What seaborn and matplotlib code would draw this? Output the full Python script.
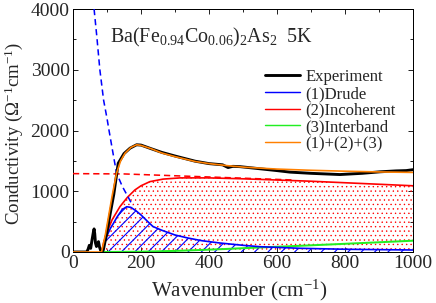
import matplotlib
matplotlib.use("Agg")
import matplotlib.pyplot as plt
from matplotlib.lines import Line2D
import seaborn as sns

# ---- data ----
exp_wn = [0, 40, 44, 48, 52, 56, 60, 62, 64, 66, 69, 72, 75, 78, 81, 84, 89, 100, 110, 120, 133,
          150, 168, 187, 200, 230, 261, 300, 359, 400, 440, 456, 470, 491, 550, 600, 638, 700,
          785, 850, 903, 950, 980, 1000]
exp_sigma = [0, 0, 40, 110, 60, 200, 330, 380, 300, 150, 90, 140, 170, 80, 30, 0, 30, 330, 650,
             950, 1460, 1620, 1710, 1765, 1760, 1700, 1640, 1580, 1495, 1455, 1435, 1390, 1410,
             1405, 1370, 1340, 1315, 1295, 1275, 1295, 1320, 1335, 1340, 1355]

fit_wn = [0, 84, 95, 105, 115, 128, 140, 153, 170, 187, 200, 230, 261, 300, 359, 400, 456, 506,
          600, 700, 800, 900, 1000]
fit_sigma = [0, 0, 280, 600, 920, 1296, 1500, 1626, 1720, 1765, 1755, 1700, 1630, 1570, 1490,
             1455, 1420, 1395, 1365, 1345, 1330, 1318, 1310]

drude_wn = [84, 92, 100, 110, 119, 130, 145, 158, 170, 185, 200, 220, 235, 260, 300, 338, 380,
            432, 500, 550, 668, 800, 1000]
drude_sigma = [0, 150, 270, 390, 472, 580, 700, 745, 735, 680, 610, 500, 420, 360, 280, 230,
               185, 148, 110, 87, 61, 45, 33]

drude0_wn = [62, 70, 79, 90, 100, 106, 116, 128, 145, 162, 176]
drude0_sigma = [4000, 3550, 3000, 2500, 2200, 2000, 1680, 1300, 1080, 906, 760]

incoh_wn = [84, 90, 100, 115, 138, 160, 182, 200, 226, 265, 315, 400, 500, 600, 700, 800, 900,
            1000]
incoh_sigma = [0, 150, 330, 530, 746, 900, 1021, 1090, 1158, 1200, 1220, 1220, 1205, 1185, 1165,
               1140, 1115, 1090]

incoh0_wn = [0, 150, 250, 350, 450, 550, 650]
incoh0_sigma = [1290, 1285, 1265, 1245, 1225, 1205, 1185]

inter_wn = [84, 200, 300, 374, 450, 550, 618, 700, 800, 900, 1000]
inter_sigma = [0, 5, 18, 33, 50, 75, 90, 110, 135, 160, 186]

legend_labels = ["Experiment", "(1)Drude", "(2)Incoherent", "(3)Interband", "(1)+(2)+(3)"]

# ---- style ----
sns.set_style("ticks")
plt.rcParams["font.family"] = ["Liberation Serif", "DejaVu Serif"]
plt.rcParams["mathtext.fontset"] = "custom"
plt.rcParams["mathtext.rm"] = "Liberation Serif"
plt.rcParams["mathtext.it"] = "Liberation Serif:italic"
plt.rcParams["mathtext.bf"] = "Liberation Serif:bold"

BLUE = "#0000ff"
RED = "#ff0000"
GREEN = "#22ee22"
ORANGE = "#ff8000"

DPI = 80
fig = plt.figure(figsize=(436 / DPI, 303 / DPI), dpi=DPI)
ax = fig.add_axes([73 / 436, 1 - 252 / 303, 340 / 436, 243 / 303])

# hatched areas
with plt.rc_context({"hatch.linewidth": 0.55}):
    red_fill = ax.fill_between(incoh_wn, 0, incoh_sigma, facecolor="none", edgecolor=RED,
                               hatch="...", linewidth=0, zorder=1)
    if hasattr(red_fill, "set_hatch_linewidth"):
        red_fill.set_hatch_linewidth(0.55)
with plt.rc_context({"hatch.linewidth": 1.0}):
    blue_fill = ax.fill_between(drude_wn, 0, drude_sigma, facecolor="none", edgecolor=BLUE,
                                hatch="//", linewidth=0, zorder=1.5)
    if hasattr(blue_fill, "set_hatch_linewidth"):
        blue_fill.set_hatch_linewidth(1.0)

kw = dict(ax=ax, sort=False, estimator=None, legend=False)
sns.lineplot(x=inter_wn, y=inter_sigma, color=GREEN, lw=1.8, zorder=3, **kw)
sns.lineplot(x=drude_wn, y=drude_sigma, color=BLUE, lw=1.5, zorder=3, **kw)
sns.lineplot(x=incoh_wn, y=incoh_sigma, color=RED, lw=1.5, zorder=3, **kw)
sns.lineplot(x=drude0_wn, y=drude0_sigma, color=BLUE, lw=1.4, zorder=3, dashes=False,
             linestyle=(0, (4, 2.5)), **kw)
sns.lineplot(x=incoh0_wn, y=incoh0_sigma, color=RED, lw=1.4, zorder=3, dashes=False,
             linestyle=(0, (4, 2.5)), **kw)
sns.lineplot(x=exp_wn, y=exp_sigma, color="black", lw=2.6, zorder=4, **kw)
sns.lineplot(x=fit_wn, y=fit_sigma, color=ORANGE, lw=1.5, zorder=5, **kw)

ax.set_xlim(0, 1000)
ax.set_ylim(0, 4000)
ax.set_xticks([0, 200, 400, 600, 800, 1000])
ax.set_xticks(range(100, 1000, 200), minor=True)
ax.set_yticks([0, 1000, 2000, 3000, 4000])
ax.set_yticks([500, 1500, 2500, 3500], minor=True)
ax.tick_params(which="both", direction="in", top=True, right=True, width=0.9,
               labelsize=17.5, pad=3)
ax.tick_params(which="major", length=4.5)
ax.tick_params(which="minor", length=2.7)
for s in ax.spines.values():
    s.set_linewidth(0.9)
    s.set_color("black")

ax.set_xlabel("Wavenumber (cm$^{-1}$)", fontsize=19)
ax.set_ylabel("Conductivity (\u03a9$^{-1}$cm$^{-1}$)", fontsize=17)
ax.xaxis.set_label_coords(0.49, -0.105)
ax.yaxis.set_label_coords(-0.142, 0.49)

ax.text(0.109, 0.864, "Ba(Fe$_{0.94}$Co$_{0.06}$)$_2$As$_2$  5K", transform=ax.transAxes,
        fontsize=18, ha="left", va="baseline")

handles = [Line2D([], [], color="black", lw=2.6),
           Line2D([], [], color=BLUE, lw=1.3),
           Line2D([], [], color=RED, lw=1.3),
           Line2D([], [], color=GREEN, lw=1.3),
           Line2D([], [], color=ORANGE, lw=1.3)]
ax.legend(handles, legend_labels, loc="upper left", bbox_to_anchor=(0.565, 0.752),
          frameon=False, fontsize=15, handlelength=2.1, handletextpad=0.3,
          labelspacing=0.04, borderpad=0, borderaxespad=0)

fig.savefig("out.png", dpi=DPI)
